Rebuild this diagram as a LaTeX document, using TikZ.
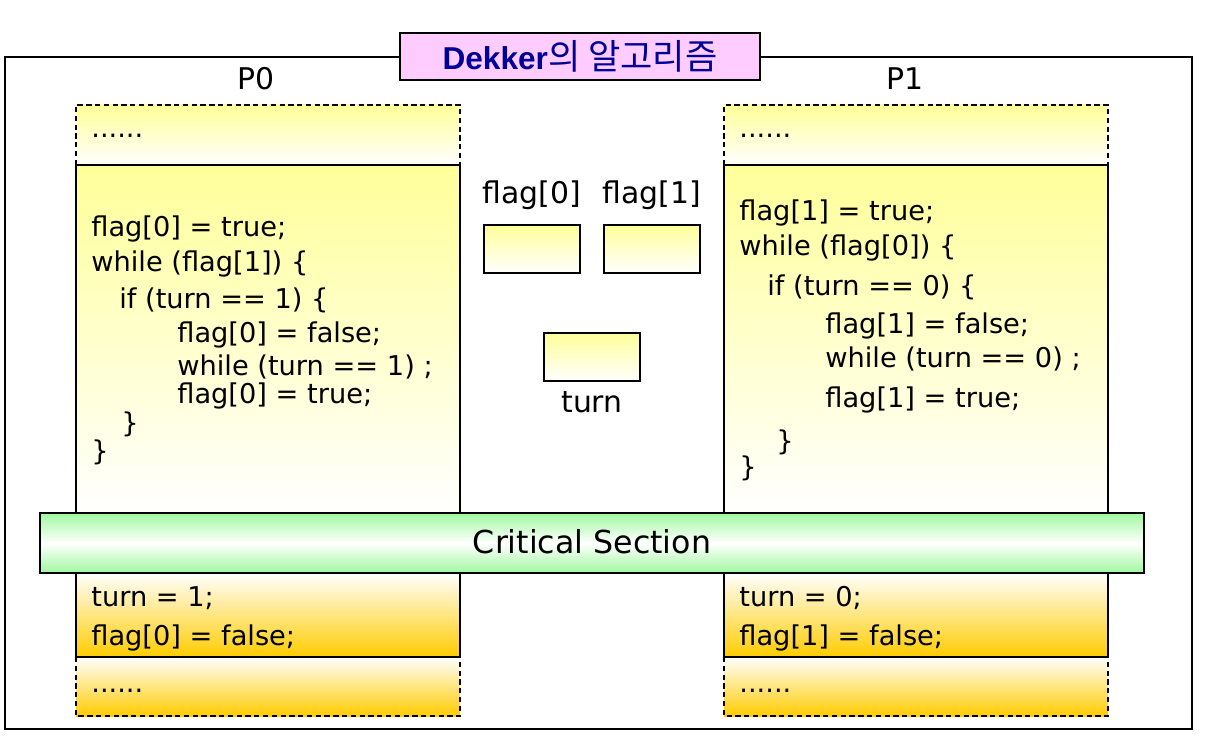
\documentclass[tikz,border=0pt]{standalone}
\usepackage{fontspec}
\setmainfont{DejaVu Sans}
\newfontfamily\titlefont{Liberation Sans}
\newfontfamily\krfont{Noto Sans CJK KR}
\usetikzlibrary{positioning}
\definecolor{lemon}{HTML}{FFFF99}
\definecolor{amber}{HTML}{FFCC00}
\definecolor{mint}{HTML}{A0F8A0}
\definecolor{orchid}{HTML}{FFCCFF}
\definecolor{navyink}{HTML}{000099}
\tikzset{
  codeline/.style={anchor=base west,inner sep=0pt,font=\fontsize{15.5}{18}\selectfont},
  tag/.style={anchor=base,inner sep=0pt,font=\fontsize{17}{20}\selectfont},
  varbox/.style={draw,line width=1pt,top color=lemon,bottom color=white},
  dashedge/.style={dashed,line width=0.8pt,dash pattern=on 3pt off 2pt}
}
% one process column: #1 = left edge
\newcommand{\proccol}[1]{%
  \shade[top color=lemon,bottom color=white] (#1,105) rectangle ++(384,60);
  \shade[top color=lemon,bottom color=white] (#1,165) rectangle ++(384,348);
  \shade[top color=white,bottom color=amber] (#1,573) rectangle ++(384,84);
  \shade[top color=white,bottom color=amber] (#1,657) rectangle ++(384,59);
  \draw[dashedge] (#1,165) -- ++(0,-60) -- ++(384,0) -- ++(0,60);
  \draw[dashedge] (#1,657) -- ++(0,59) -- ++(384,0) -- ++(0,-59);
  \draw[line width=1pt] (#1,165) rectangle ++(384,492);
}

\begin{document}
\begin{tikzpicture}[x=0.02cm,y=-0.02cm]
  \useasboundingbox (0,0) rectangle (1219,743);
  \draw[line width=0.9pt] (5,57) rectangle (1192,729);
  \node[draw,line width=1.2pt,fill=orchid,minimum width=7.2cm,minimum height=0.94cm,
        text=navyink,inner sep=0pt] (title) at (580,56.5)
       {\titlefont\bfseries\fontsize{18}{20}\selectfont Dekker\krfont\mdseries\fontsize{20}{22}\selectfont 의 알고리즘};

  \proccol{76}
  \proccol{724}
  \node[tag] (p0) at (256,90) {P0};
  \node[tag] (p1) at (905,90) {P1};

  % P0 entry
  \node[codeline] (p0dots) at (91,138) {......};
  \node[codeline] (p0a) at (91,236) {flag[0] = true;};
  \node[codeline] (p0b) at (91,271) {while (flag[1]) \{};
  \node[codeline] (p0c) at (119,308) {if (turn == 1) \{};
  \node[codeline] (p0d) at (177,342) {flag[0] = false;};
  \node[codeline] (p0e) at (177,375) {while (turn == 1) ;};
  \node[codeline] (p0f) at (177,403) {flag[0] = true;};
  \node[codeline] (p0g) at (121,432) {\}};
  \node[codeline] (p0h) at (91,460) {\}};
  % P0 exit
  \node[codeline] (p0x) at (91,606) {turn = 1;};
  \node[codeline] (p0y) at (91,645) {flag[0] = false;};
  \node[codeline] (p0end) at (91,692) {......};

  % P1 entry
  \node[codeline] (p1dots) at (739,138) {......};
  \node[codeline] (p1a) at (739,220) {flag[1] = true;};
  \node[codeline] (p1b) at (739,255) {while (flag[0]) \{};
  \node[codeline] (p1c) at (767,295) {if (turn == 0) \{};
  \node[codeline] (p1d) at (825,333) {flag[1] = false;};
  \node[codeline] (p1e) at (825,367) {while (turn == 0) ;};
  \node[codeline] (p1f) at (825,407) {flag[1] = true;};
  \node[codeline] (p1g) at (776,450) {\}};
  \node[codeline] (p1h) at (739,476) {\}};
  % P1 exit
  \node[codeline] (p1x) at (739,606) {turn = 0;};
  \node[codeline] (p1y) at (739,645) {flag[1] = false;};
  \node[codeline] (p1end) at (739,692) {......};

  % shared variables
  \node[tag] (f0tag) at (532,203) {flag[0]};
  \node[tag] (f1tag) at (652,203) {flag[1]};
  \shadedraw[varbox] (484,225) rectangle (580,273);
  \shadedraw[varbox] (604,225) rectangle (700,273);
  \shadedraw[varbox] (544,333) rectangle (640,381);
  \node[tag] (turntag) at (592,412) {turn};

  % critical section
  \shadedraw[draw,line width=1pt,top color=mint,bottom color=mint,middle color=white]
    (40,513) rectangle (1144,573);
  \node[tag,font=\fontsize{18}{20}\selectfont] (crit) at (592,553) {Critical Section};
\end{tikzpicture}
\end{document}
